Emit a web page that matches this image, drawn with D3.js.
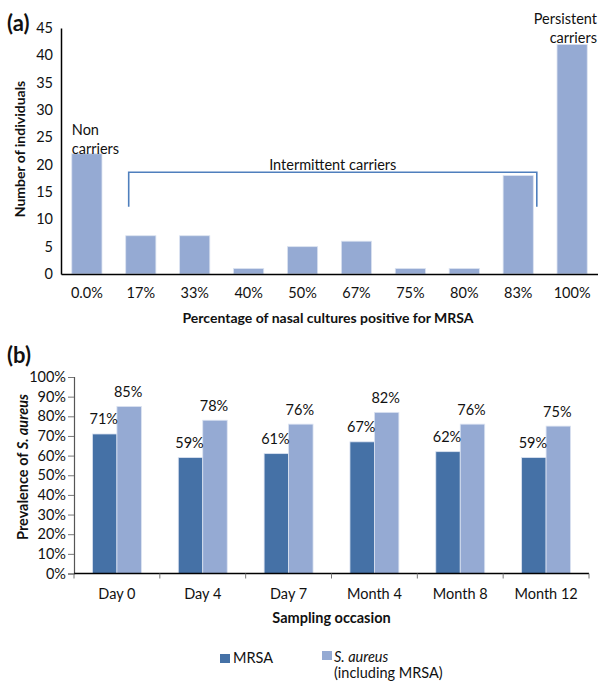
<!DOCTYPE html>
<html>
<head>
<meta charset="utf-8">
<script src="https://cdn.jsdelivr.net/npm/d3@7"></script>
<style>
  body { margin: 0; background: #fff; }
  text { font-family: Lato, "Open Sans", sans-serif; fill: #111; }
</style>
</head>
<body>
<div id="chart"></div>
<script>
// panel (a)
var positivityLabels = ["0.0%", "17%", "33%", "40%", "50%", "67%", "75%", "80%", "83%", "100%"];
var individualCounts = [22, 7, 7, 1, 5, 6, 1, 1, 18, 42];
var countTicks = [0, 5, 10, 15, 20, 25, 30, 35, 40, 45];
// panel (b)
var occasions = ["Day 0", "Day 4", "Day 7", "Month 4", "Month 8", "Month 12"];
var mrsaPrevalence = [71, 59, 61, 67, 62, 59];
var aureusPrevalence = [85, 78, 76, 82, 76, 75];
var prevalenceTicks = [0, 10, 20, 30, 40, 50, 60, 70, 80, 90, 100];
var seriesKeys = ["MRSA", "S. aureus"];

var width = 598, height = 683;
var darkBlue = "#4571a6", lightBlue = "#95aad3";
var fs = 14.5;

var svg = d3.select("#chart").append("svg")
    .attr("width", width)
    .attr("height", height);

////////////////////////////////////////////////////////////////////////////
// (a) histogram of carriage

var xA = d3.scaleBand()
    .domain(positivityLabels)
    .range([61, 598])
    .paddingInner(0.44)
    .paddingOuter(0.2);

var yA = d3.scaleLinear()
    .domain([0, 45])
    .range([274, 28]);

var gA = svg.append("g");

gA.selectAll("rect")
    .data(individualCounts)
    .enter().append("rect")
        .attr("x", function(d, i) { return xA(positivityLabels[i]); })
        .attr("y", function(d) { return yA(d); })
        .attr("width", xA.bandwidth())
        .attr("height", function(d) { return yA(0) - yA(d); })
        .attr("fill", lightBlue)
        .attr("stroke", "#dbe3f1")
        .attr("stroke-width", 0.8);

gA.append("g")
    .attr("transform", "translate(61,0)")
    .call(d3.axisLeft(yA).tickValues(countTicks).tickSize(0).tickPadding(8))
    .call(function(g) {
        g.select(".domain").attr("stroke", "#000").attr("stroke-width", 1.5);
        g.selectAll("text").attr("font-size", fs).attr("font-family", "Lato").attr("fill", "#111");
    });

gA.append("g")
    .attr("transform", "translate(0," + yA(0) + ")")
    .call(d3.axisBottom(xA).tickSize(0).tickPadding(14))
    .call(function(g) {
        g.select(".domain").attr("stroke", "#000").attr("stroke-width", 1.5);
        g.selectAll("text").attr("font-size", fs).attr("font-family", "Lato").attr("fill", "#111");
    });

gA.append("text")
    .attr("x", 328)
    .attr("y", 323)
    .attr("text-anchor", "middle")
    .attr("font-size", 14)
    .attr("font-weight", "bold")
    .text("Percentage of nasal cultures positive for MRSA");

gA.append("text")
    .attr("transform", "translate(25,149) rotate(-90)")
    .attr("text-anchor", "middle")
    .attr("font-size", 14)
    .attr("font-weight", "bold")
    .text("Number of individuals");

gA.append("text")
    .attr("x", 7)
    .attr("y", 31)
    .attr("font-size", 22)
    .attr("font-weight", "bold")
    .text("(a)");

// bracket for intermittent carriers
var bracketLeft = xA("17%") + 3;
var bracketRight = xA("83%") + xA.bandwidth() + 3.5;
var bracketTop = yA(18.6), bracketBottom = yA(12.3);
gA.append("path")
    .attr("d", "M" + bracketLeft + "," + bracketBottom + "V" + bracketTop +
               "H" + bracketRight + "V" + bracketBottom)
    .attr("fill", "none")
    .attr("stroke", "#4f7fbd")
    .attr("stroke-width", 1.6);

gA.append("text")
    .attr("x", (bracketLeft + bracketRight) / 2)
    .attr("y", 170)
    .attr("text-anchor", "middle")
    .attr("font-size", fs)
    .text("Intermittent carriers");

var nonCarrier = gA.append("text")
    .attr("font-size", fs);
nonCarrier.append("tspan").attr("x", xA("0.0%")).attr("y", 135).text("Non");
nonCarrier.append("tspan").attr("x", xA("0.0%")).attr("y", 154).text("carriers");

var persistent = gA.append("text")
    .attr("text-anchor", "end")
    .attr("font-size", fs);
persistent.append("tspan").attr("x", 597).attr("y", 24).text("Persistent");
persistent.append("tspan").attr("x", 597).attr("y", 43).text("carriers");

////////////////////////////////////////////////////////////////////////////
// (b) prevalence by sampling occasion

var xB0 = d3.scaleBand()
    .domain(occasions)
    .range([74, 589])
    .paddingInner(0.43)
    .paddingOuter(0.215);

var xB1 = d3.scaleBand()
    .domain(seriesKeys)
    .range([0, xB0.bandwidth()]);

var yB = d3.scaleLinear()
    .domain([0, 100])
    .range([573.5, 377]);

var colorB = d3.scaleOrdinal()
    .domain(seriesKeys)
    .range([darkBlue, lightBlue]);

var rows = occasions.map(function(occ, i) {
    return { occasion: occ, values: [
        { key: "MRSA", value: mrsaPrevalence[i] },
        { key: "S. aureus", value: aureusPrevalence[i] }
    ]};
});

var gB = svg.append("g");

var groups = gB.append("g")
    .selectAll("g")
    .data(rows)
    .enter().append("g")
        .attr("transform", function(row) {
            return "translate(" + xB0(row.occasion) + ",0)";
        });

groups.selectAll("rect")
    .data(function(row) { return row.values; })
    .enter().append("rect")
        .attr("x", function(kv) { return xB1(kv.key); })
        .attr("y", function(kv) { return yB(kv.value); })
        .attr("width", xB1.bandwidth())
        .attr("height", function(kv) { return yB(0) - yB(kv.value); })
        .attr("fill", function(kv) { return colorB(kv.key); })
        .attr("stroke", "#dbe3f1")
        .attr("stroke-width", 0.8);

groups.selectAll("text.val")
    .data(function(row) { return row.values; })
    .enter().append("text")
        .attr("class", "val")
        .attr("x", function(kv) { return xB1(kv.key) + xB1.bandwidth() / 2 - 1; })
        .attr("y", function(kv) { return yB(kv.value) - 9.5; })
        .attr("text-anchor", "middle")
        .attr("font-size", fs)
        .text(function(kv) { return kv.value + "%"; });

// y axis
gB.append("g")
    .attr("transform", "translate(74,0)")
    .call(d3.axisLeft(yB).tickValues(prevalenceTicks).tickSize(6).tickPadding(2)
        .tickFormat(function(d) { return d + "%"; }))
    .call(function(g) {
        g.select(".domain").attr("stroke", "#555").attr("stroke-width", 1.2);
        g.selectAll(".tick line").attr("stroke", "#777");
        g.selectAll("text").attr("font-size", fs).attr("font-family", "Lato").attr("fill", "#111");
    });

// x axis with boundary ticks
var stepB = xB0.step();
var boundaries = occasions.map(function(occ) {
    return xB0(occ) - stepB * xB0.paddingInner() / 2;
});
boundaries.push(xB0(occasions[occasions.length - 1]) + xB0.bandwidth() + stepB * xB0.paddingInner() / 2);

var xAxisB = gB.append("g")
    .attr("transform", "translate(0," + yB(0) + ")");
xAxisB.append("line")
    .attr("x1", boundaries[0])
    .attr("x2", boundaries[boundaries.length - 1])
    .attr("stroke", "#000")
    .attr("stroke-width", 1.5);
xAxisB.selectAll("line.bt")
    .data(boundaries)
    .enter().append("line")
        .attr("class", "bt")
        .attr("x1", function(d) { return d; })
        .attr("x2", function(d) { return d; })
        .attr("y1", 0)
        .attr("y2", 5)
        .attr("stroke", "#777");
xAxisB.selectAll("text")
    .data(occasions)
    .enter().append("text")
        .attr("x", function(d) { return xB0(d) + xB0.bandwidth() / 2; })
        .attr("y", 25.5)
        .attr("text-anchor", "middle")
        .attr("font-size", fs)
        .text(function(d) { return d; });

gB.append("text")
    .attr("x", (boundaries[0] + boundaries[boundaries.length - 1]) / 2)
    .attr("y", 623)
    .attr("text-anchor", "middle")
    .attr("font-size", 14.5)
    .attr("font-weight", "bold")
    .text("Sampling occasion");

var yLabB = gB.append("text")
    .attr("transform", "translate(28,467) rotate(-90)")
    .attr("text-anchor", "middle")
    .attr("font-size", 14.5)
    .attr("font-weight", "bold");
yLabB.append("tspan").text("Prevalence of ");
yLabB.append("tspan").attr("font-style", "italic").text("S. aureus");

gB.append("text")
    .attr("x", 7)
    .attr("y", 363)
    .attr("font-size", 22)
    .attr("font-weight", "bold")
    .text("(b)");

// legend
var legend = gB.append("g");
legend.append("rect").attr("x", 220).attr("y", 654).attr("width", 10).attr("height", 9).attr("fill", colorB("MRSA"));
legend.append("text").attr("x", 233).attr("y", 663).attr("font-size", fs).text("MRSA");
legend.append("rect").attr("x", 322).attr("y", 651).attr("width", 10).attr("height", 9).attr("fill", colorB("S. aureus"));
legend.append("text").attr("x", 334).attr("y", 662).attr("font-size", fs).attr("font-style", "italic").text("S. aureus");
legend.append("text").attr("x", 334).attr("y", 678).attr("font-size", fs).text("(including MRSA)");
</script>
</body>
</html>
